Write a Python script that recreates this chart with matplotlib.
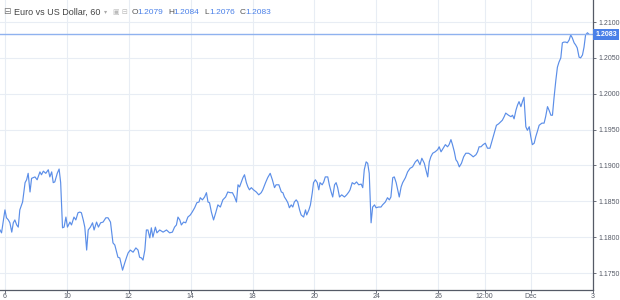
import numpy as np
import matplotlib
matplotlib.use('Agg')
import matplotlib.pyplot as plt
import matplotlib.transforms as mtransforms

plt.rcParams['font.family'] = ['Liberation Sans', 'DejaVu Sans']

# Posicion en dias de negociacion (0 = dia 6) y precio EUR/USD
dias = [-0.16, -0.11, 0.00, 0.05, 0.11, 0.16, 0.22, 0.27, 0.32, 0.38, 0.43, 0.48, 0.57, 0.65, 0.70, 0.75,
        0.81, 0.86, 0.97, 1.04, 1.13, 1.18, 1.24, 1.32, 1.40, 1.45, 1.51, 1.56, 1.61, 1.69, 1.75, 1.80,
        1.86, 1.91, 1.97, 2.02, 2.10, 2.15, 2.23, 2.29, 2.36, 2.42, 2.47, 2.53, 2.58, 2.64, 2.69, 2.76,
        2.83, 2.88, 2.96, 3.02, 3.09, 3.17, 3.26, 3.33, 3.41, 3.49, 3.55, 3.65, 3.71, 3.80, 3.87, 3.93,
        3.98, 4.05, 4.14, 4.23, 4.30, 4.35, 4.41, 4.46, 4.52, 4.57, 4.62, 4.68, 4.73, 4.78, 4.86, 4.91,
        5.00, 5.11, 5.22, 5.32, 5.41, 5.48, 5.54, 5.59, 5.65, 5.70, 5.77, 5.84, 5.91, 5.99, 6.05, 6.13,
        6.20, 6.27, 6.31, 6.38, 6.45, 6.51, 6.56, 6.61, 6.67, 6.74, 6.81, 6.88, 6.96, 7.04, 7.13, 7.20,
        7.28, 7.35, 7.42, 7.48, 7.53, 7.58, 7.64, 7.69, 7.74, 7.80, 7.85, 7.90, 7.96, 8.03, 8.12, 8.20,
        8.28, 8.33, 8.42, 8.49, 8.57, 8.64, 8.71, 8.76, 8.85, 8.93, 8.98, 9.03, 9.09, 9.14, 9.19, 9.25,
        9.30, 9.35, 9.41, 9.46, 9.52, 9.57, 9.65, 9.71, 9.75, 9.82, 9.87, 9.93, 9.97, 10.03, 10.09, 10.14,
        10.18, 10.25, 10.30, 10.35, 10.43, 10.48, 10.54, 10.59, 10.65, 10.70, 10.75, 10.81, 10.88, 10.97,
        11.04, 11.11, 11.15, 11.22, 11.29, 11.36, 11.43, 11.51, 11.56, 11.61, 11.67, 11.72, 11.77, 11.83,
        11.88, 11.94, 11.99, 12.07, 12.15, 12.20, 12.29, 12.36, 12.42, 12.47, 12.53, 12.58, 12.64, 12.69,
        12.74, 12.80, 12.85, 12.94, 13.01, 13.09, 13.17, 13.26, 13.33, 13.41, 13.47, 13.55, 13.60, 13.66,
        13.71, 13.76, 13.82, 13.90, 13.98, 14.03, 14.09, 14.16, 14.23, 14.30, 14.35, 14.41, 14.46, 14.52,
        14.57, 14.62, 14.68, 14.75, 14.82, 14.89, 14.98, 15.05, 15.13, 15.22, 15.27, 15.32, 15.38, 15.45,
        15.52, 15.59, 15.67, 15.73, 15.81, 15.88, 15.95, 16.02, 16.07, 16.13, 16.18, 16.27, 16.35, 16.40,
        16.45, 16.51, 16.56, 16.61, 16.67, 16.72, 16.77, 16.83, 16.88, 16.94, 16.99, 17.04, 17.10, 17.15,
        17.20, 17.26, 17.35, 17.42, 17.47, 17.53, 17.58, 17.64, 17.69, 17.74, 17.80, 17.85, 17.90, 17.96,
        18.01, 18.06, 18.12, 18.17, 18.23, 18.28, 18.33, 18.39, 18.44, 18.49, 18.55, 18.60, 18.66, 18.71,
        18.76, 18.82, 18.87]
precio = [1.1810, 1.1806, 1.1838, 1.1827, 1.1824, 1.1820, 1.1807, 1.1820, 1.1824, 1.1817, 1.1814, 1.1838,
          1.1849, 1.1876, 1.1880, 1.1889, 1.1863, 1.1882, 1.1884, 1.1880, 1.1891, 1.1887, 1.1892, 1.1889,
          1.1894, 1.1884, 1.1891, 1.1876, 1.1877, 1.1889, 1.1895, 1.1876, 1.1813, 1.1814, 1.1828, 1.1814,
          1.1821, 1.1817, 1.1828, 1.1824, 1.1834, 1.1835, 1.1834, 1.1824, 1.1814, 1.1782, 1.1810, 1.1814,
          1.1820, 1.1810, 1.1821, 1.1814, 1.1820, 1.1821, 1.1827, 1.1827, 1.1821, 1.1792, 1.1789, 1.1772,
          1.1771, 1.1754, 1.1764, 1.1772, 1.1778, 1.1782, 1.1779, 1.1785, 1.1782, 1.1772, 1.1771, 1.1768,
          1.1782, 1.1810, 1.1810, 1.1799, 1.1813, 1.1800, 1.1814, 1.1806, 1.1810, 1.1807, 1.1810, 1.1806,
          1.1807, 1.1814, 1.1817, 1.1828, 1.1824, 1.1817, 1.1821, 1.1820, 1.1828, 1.1831, 1.1835, 1.1841,
          1.1848, 1.1849, 1.1855, 1.1852, 1.1856, 1.1862, 1.1849, 1.1848, 1.1835, 1.1824, 1.1834, 1.1845,
          1.1842, 1.1852, 1.1856, 1.1863, 1.1862, 1.1862, 1.1856, 1.1849, 1.1873, 1.1870, 1.1877, 1.1883,
          1.1887, 1.1876, 1.1870, 1.1866, 1.1869, 1.1866, 1.1863, 1.1859, 1.1862, 1.1866, 1.1876, 1.1883,
          1.1889, 1.1880, 1.1869, 1.1873, 1.1873, 1.1863, 1.1862, 1.1856, 1.1852, 1.1848, 1.1841, 1.1845,
          1.1842, 1.1849, 1.1852, 1.1849, 1.1838, 1.1831, 1.1828, 1.1838, 1.1831, 1.1838, 1.1845, 1.1862,
          1.1876, 1.1880, 1.1876, 1.1866, 1.1876, 1.1873, 1.1877, 1.1884, 1.1884, 1.1873, 1.1863, 1.1856,
          1.1873, 1.1876, 1.1869, 1.1856, 1.1859, 1.1856, 1.1859, 1.1863, 1.1866, 1.1876, 1.1874, 1.1877,
          1.1873, 1.1874, 1.1869, 1.1894, 1.1905, 1.1903, 1.1889, 1.1820, 1.1842, 1.1845, 1.1841, 1.1842,
          1.1842, 1.1845, 1.1849, 1.1855, 1.1852, 1.1856, 1.1883, 1.1884, 1.1876, 1.1866, 1.1856, 1.1870,
          1.1876, 1.1883, 1.1891, 1.1896, 1.1898, 1.1905, 1.1908, 1.1901, 1.1910, 1.1903, 1.1894, 1.1884,
          1.1905, 1.1912, 1.1917, 1.1919, 1.1922, 1.1926, 1.1919, 1.1924, 1.1929, 1.1926, 1.1929, 1.1936,
          1.1929, 1.1919, 1.1908, 1.1905, 1.1898, 1.1903, 1.1912, 1.1917, 1.1917, 1.1915, 1.1912, 1.1915,
          1.1919, 1.1926, 1.1926, 1.1929, 1.1931, 1.1924, 1.1924, 1.1933, 1.1945, 1.1956, 1.1958, 1.1961,
          1.1963, 1.1968, 1.1973, 1.1970, 1.1968, 1.1970, 1.1965, 1.1977, 1.1984, 1.1989, 1.1982, 1.1989,
          1.1995, 1.1954, 1.1949, 1.1954, 1.1940, 1.1929, 1.1931, 1.1940, 1.1947, 1.1956, 1.1959, 1.1959,
          1.1968, 1.1982, 1.1977, 1.1970, 1.1970, 1.1994, 1.2019, 1.2037, 1.2044, 1.2050, 1.2071, 1.2072,
          1.2072, 1.2071, 1.2075, 1.2082, 1.2078, 1.2071, 1.2068, 1.2064, 1.2051, 1.2050, 1.2054, 1.2065,
          1.2082, 1.2085, 1.2083]

ticks_x = [0, 2, 4, 6, 8, 10, 12, 14, 15.5, 17, 19]
etiquetas_x = ['6', '10', '12', '14', '18', '20', '24', '26', '12:00', 'Dec', '3']
ticks_y = [1.1750, 1.1800, 1.1850, 1.1900, 1.1950, 1.2000, 1.2050, 1.2100]
ultimo = 1.2083
ohlc = [('O', '1.2079'), ('H', '1.2084'), ('L', '1.2076'), ('C', '1.2083')]

azul = '#5b8ee8'
gris = '#555a66'

fig = plt.figure(figsize=(6.2, 3.0), dpi=100)
ax = fig.add_axes([0.0, 10 / 300, 593 / 620, 290 / 300])

ax.plot(dias, precio, color=azul, linewidth=0.85)
ax.axhline(ultimo, color='#8fb2ef', linewidth=1.0)

ax.set_xlim(-0.16, 19.0)
ax.set_ylim(1.17263, 1.21307)
ax.set_xticks(ticks_x)
ax.set_xticklabels(etiquetas_x)
ax.set_yticks(ticks_y)
ax.set_yticklabels([f'{v:.4f}' for v in ticks_y])
ax.yaxis.tick_right()

ax.grid(True, color='#e8edf4', linewidth=0.8)
ax.set_axisbelow(True)
for lado in ['top', 'left']:
    ax.spines[lado].set_visible(False)
for lado in ['bottom', 'right']:
    ax.spines[lado].set_color(gris)
    ax.spines[lado].set_linewidth(0.9)
ax.tick_params(axis='both', colors=gris, labelsize=5, length=2, width=0.6, pad=0.5)
ax.tick_params(axis='y', pad=2)

# Etiqueta del ultimo precio en el eje derecho
trans = mtransforms.blended_transform_factory(ax.transAxes, ax.transData)
ax.text(1.004, ultimo, '1.2083', transform=trans, ha='left', va='center', fontsize=5,
        color='white', fontweight='bold',
        bbox=dict(boxstyle='square,pad=0.3', facecolor='#4a80e8', edgecolor='none'))

# Cabecera
fig.text(3 / 620, 1 - 12 / 300, '⊟', fontsize=6.5, color='#777777', va='center',
         family='DejaVu Sans')
fig.text(14 / 620, 1 - 12 / 300, 'Euro vs US Dollar, 60', fontsize=6.5, color='#444444',
         va='center')
fig.text(104 / 620, 1 - 12 / 300, '▾', fontsize=4.5, color='#aaaaaa', va='center',
         family='DejaVu Sans')
fig.text(113 / 620, 1 - 12 / 300, '▣ ⊟', fontsize=5, color='#bbbbbb', va='center',
         family='DejaVu Sans')
x0 = 132
for letra, valor in ohlc:
    fig.text(x0 / 620, 1 - 12 / 300, letra, fontsize=6, color='#555555', va='center')
    fig.text((x0 + 5) / 620, 1 - 12 / 300, valor, fontsize=6, color='#4a80e8', va='center')
    x0 += 36

fig.savefig('out.png', dpi=100)
